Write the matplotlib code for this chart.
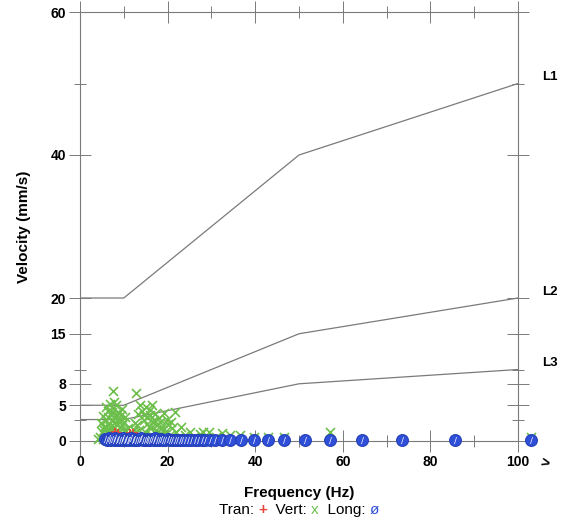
import matplotlib
matplotlib.use("Agg")
import matplotlib.pyplot as plt
from matplotlib.ticker import FixedLocator

plt.rcParams['font.family'] = ['Liberation Sans', 'DejaVu Sans']

# limit lines (frequency Hz, velocity mm/s)
l1_freq = [0, 10, 50, 100]
l1_vel = [20, 20, 40, 50]
l2_freq = [0, 10, 50, 100]
l2_vel = [5, 5, 15, 20]
l3_freq = [0, 10, 50, 100]
l3_vel = [3, 3, 8, 10]
line_names = ['L1', 'L2', 'L3']

# Vert (green x)
vert_freq = [4.5, 5.0, 5.2, 5.5, 5.8, 6.0, 6.1, 6.3, 6.5, 6.6, 6.8, 7.0, 7.1, 7.3, 7.5,
             7.6, 7.8, 8.0, 8.2, 8.4, 8.6, 8.8, 9.0, 9.2, 9.5, 9.8, 10.0, 10.3, 10.6,
             6.2, 5.6, 7.2, 8.3, 9.1,
             4.8, 5.3, 5.9, 6.4, 6.9, 7.4, 7.7, 8.1, 8.5, 8.9, 9.3, 9.7, 6.7, 7.9,
             5.4, 4.2, 10.2, 6.0, 7.0,
             11.0, 11.5, 12.0, 12.5, 12.8, 13.2, 13.5, 13.8, 14.2, 14.5, 14.8, 15.0,
             15.4, 15.7, 16.0, 16.3, 16.4, 16.6, 17.0, 17.3, 17.6, 18.0, 18.4, 18.8,
             19.2, 19.6, 20.0, 20.5, 21.0, 21.7, 22.0, 22.5, 16.8, 14.0,
             13.0, 14.6, 15.2, 15.9, 16.2, 17.2, 18.2, 19.0, 19.8, 20.8, 12.3, 17.8,
             23.0, 24.0, 25.0, 26.0, 27.5, 28.0, 29.5, 31.0, 32.4, 34.2, 36.5,
             39.7, 43.0, 46.6, 57.0, 103.0]
vert_vel = [0.5, 1.2, 0.3, 2.0, 1.0, 3.0, 0.6, 4.2, 2.4, 1.5, 5.2, 3.6, 0.8, 2.8, 7.0,
            4.6, 1.9, 3.2, 5.0, 2.3, 4.0, 1.2, 3.0, 2.0, 4.5, 1.0, 2.6, 1.5, 0.7,
            0.2, 0.9, 0.4, 0.6, 0.3,
            2.5, 3.5, 4.8, 3.4, 2.0, 4.0, 5.5, 2.6, 3.6, 2.8, 3.6, 2.2, 0.5, 0.9,
            1.6, 0.3, 3.4, 1.9, 1.3,
            1.8, 0.9, 1.0, 2.5, 6.7, 3.8, 1.6, 5.0, 4.2, 2.9, 1.2, 4.7,
            3.3, 2.0, 3.6, 0.8, 5.0, 2.6, 3.0, 1.5, 2.2, 3.2, 1.0, 2.0,
            3.9, 1.4, 2.4, 0.9, 1.8, 4.0, 1.2, 0.6, 0.5, 0.6,
            2.2, 3.6, 2.4, 4.3, 1.8, 3.8, 2.7, 1.6, 3.0, 2.6, 1.5, 1.2,
            2.0, 0.8, 1.2, 0.5, 1.0, 1.3, 1.2, 0.6, 1.1, 0.8, 0.8,
            0.6, 0.6, 0.5, 1.2, 0.6]

# Tran (red +)
tran_freq = [8.0, 8.7, 9.5, 10.5, 11.4, 12.1, 13.0, 14.0]
tran_vel = [1.2, 1.1, 0.4, 0.6, 1.1, 1.1, 0.7, 0.5]

# Long (blue o-slash)
long_freq = [5.8, 6.2, 6.6, 6.9, 7.3, 7.7, 8.0, 8.4, 8.7, 9.1, 9.5, 9.8, 10.2, 10.6, 10.9,
             11.3, 11.7, 12.1, 12.4, 12.8, 13.2, 13.6, 14.0, 14.4, 14.8, 15.2, 15.6,
             16.0, 16.4, 16.8, 17.2, 17.6, 18.1, 18.6, 19.0, 19.5, 20.0, 20.5, 21.0,
             21.6, 22.2, 22.8, 23.4, 24.0, 24.7, 25.4, 26.2, 27.0, 27.8, 28.6, 29.6,
             30.8, 32.4, 34.2, 36.8, 39.7, 43.0, 46.6, 51.4, 57.0, 64.4, 73.5, 85.6,
             103.0]
long_vel = [0.3, 0.1, 0.4, 0.2, 0.3, 0.1, 0.4, 0.2, 0.3, 0.1, 0.2, 0.4, 0.1, 0.3, 0.2,
            0.2, 0.4, 0.1, 0.3, 0.2, 0.1, 0.3, 0.4, 0.2, 0.1, 0.3, 0.2,
            0.1, 0.3, 0.2, 0.4, 0.1, 0.2, 0.3, 0.1, 0.2, 0.3, 0.1, 0.2,
            0.2, 0.1, 0.2, 0.1, 0.2, 0.1, 0.1, 0.2, 0.1, 0.1, 0.1, 0.1,
            0.1, 0.1, 0.1, 0.1, 0.1, 0.1, 0.1, 0.1, 0.1, 0.1, 0.1, 0.1,
            0.1]

y_major = [0, 5, 8, 15, 20, 40, 60]
y_minor = [3, 10, 50]
x_major = [0, 20, 40, 60, 80, 100]
x_minor = [10, 30, 50, 70, 90]

RED = '#e8453c'
GREEN = '#6cbf4a'
BLUE = '#2f4fd8'
grey = '#7a7a7a'

fig = plt.figure(figsize=(5.63, 5.21), dpi=100)
ax = fig.add_axes([80 / 563, 1 - 441 / 521, 438 / 563, 429 / 521])

for fx, vy in [(l1_freq, l1_vel), (l2_freq, l2_vel), (l3_freq, l3_vel)]:
    ax.plot(fx, vy, color=grey, lw=0.9)
for name, vy in zip(line_names, [l1_vel[-1], l2_vel[-1], l3_vel[-1]]):
    ax.text(105.5, vy + 0.9, name, fontsize=9.5, fontweight='bold', va='center', ha='left')

ax.scatter(vert_freq, vert_vel, marker='x', s=42, color=GREEN, linewidths=1.2, clip_on=False, zorder=3)
ax.scatter(tran_freq, tran_vel, marker='+', s=40, color=RED, linewidths=1.3, clip_on=False, zorder=4)
# filled blob with a slash look
ax.plot(long_freq, long_vel, ls='none', marker='o', ms=8.5, mfc=BLUE, mec='#2440b8', mew=0.8,
        clip_on=False, zorder=5)
ax.plot(long_freq, long_vel, ls='none', marker='$/$', ms=5, color='white', mew=0,
        clip_on=False, zorder=6)

ax.set_xlim(0, 100)
ax.set_ylim(0, 60)
ax.xaxis.set_major_locator(FixedLocator(x_major))
ax.xaxis.set_minor_locator(FixedLocator(x_minor))
ax.yaxis.set_major_locator(FixedLocator(y_major))
ax.yaxis.set_minor_locator(FixedLocator(y_minor))
ax.tick_params(which='both', direction='inout', length=16, width=0.7, color=grey,
               top=True, right=True, labelsize=10, pad=2)
ax.tick_params(which='minor', length=9)
for lab in ax.get_xticklabels() + ax.get_yticklabels():
    lab.set_fontweight('bold')
for sp in ax.spines.values():
    sp.set_color(grey)
    sp.set_linewidth(0.8)
# left axis runs a little past zero
ax.plot([0, 0], [-2, 0], color=grey, lw=0.8, clip_on=False)
ax.text(106, -3.2, '>', fontsize=11, fontweight='bold', ha='center', va='center', rotation=-15)

ax.set_xlabel('Frequency (Hz)', fontsize=11, fontweight='bold', labelpad=12)
ax.set_ylabel('Velocity (mm/s)', fontsize=11, fontweight='bold', labelpad=14)

# legend line built from coloured pieces
parts = [('Tran: ', 'black'), ('+', RED), ('  Vert: ', 'black'), ('x', GREEN),
         ('  Long: ', 'black'), ('ø', BLUE)]
fig.canvas.draw()
rend = fig.canvas.get_renderer()
widths = []
for s, c in parts:
    t = fig.text(0, 0, s, fontsize=11)
    widths.append(t.get_window_extent(rend).width / fig.bbox.width)
    t.remove()
x0 = 299 / 563 - sum(widths) / 2
for (s, c), w in zip(parts, widths):
    fig.text(x0, 1 - 510 / 521, s, fontsize=11, color=c, ha='left', va='center',
             fontweight='bold' if s == '+' else 'normal')
    x0 += w

fig.savefig('out.png', dpi=100)
